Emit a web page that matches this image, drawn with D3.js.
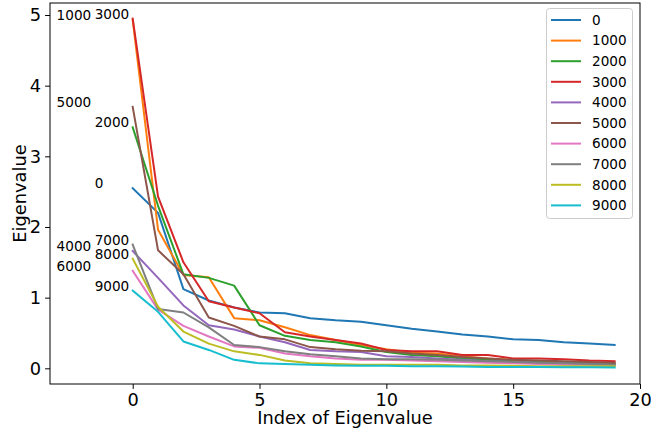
<!DOCTYPE html>
<html>
<head>
<meta charset="utf-8">
<script src="https://cdn.jsdelivr.net/npm/d3@7"></script>
<style>
  html, body { margin: 0; padding: 0; background: #fff; }
  svg { display: block; font-family: "DejaVu Sans", sans-serif; }
</style>
</head>
<body>
<svg id="chart" width="651" height="431"></svg>
<script>
// ---- data ----
const seriesNames = ["0", "1000", "2000", "3000", "4000", "5000", "6000", "7000", "8000", "9000"];
const indices = d3.range(20);
const s0    = [2.55, 2.20, 1.12, 0.96, 0.86, 0.79, 0.78, 0.71, 0.68, 0.66, 0.61, 0.56, 0.52, 0.48, 0.45, 0.41, 0.40, 0.37, 0.35, 0.33];
const s1000 = [4.93, 1.96, 1.32, 1.29, 0.71, 0.68, 0.58, 0.47, 0.40, 0.33, 0.27, 0.22, 0.21, 0.17, 0.14, 0.12, 0.10, 0.09, 0.08, 0.07];
const s2000 = [3.41, 2.30, 1.33, 1.28, 1.17, 0.61, 0.46, 0.40, 0.37, 0.31, 0.23, 0.19, 0.17, 0.14, 0.12, 0.10, 0.09, 0.08, 0.07, 0.06];
const s3000 = [4.95, 2.43, 1.50, 0.95, 0.86, 0.78, 0.51, 0.45, 0.40, 0.35, 0.26, 0.24, 0.24, 0.19, 0.19, 0.14, 0.14, 0.13, 0.11, 0.10];
const s4000 = [1.66, 1.28, 0.89, 0.61, 0.55, 0.45, 0.37, 0.26, 0.24, 0.23, 0.17, 0.16, 0.14, 0.12, 0.10, 0.09, 0.08, 0.07, 0.06, 0.05];
const s5000 = [3.70, 1.67, 1.33, 0.72, 0.60, 0.45, 0.41, 0.30, 0.27, 0.25, 0.24, 0.21, 0.19, 0.16, 0.14, 0.12, 0.11, 0.10, 0.09, 0.08];
const s6000 = [1.38, 0.83, 0.60, 0.45, 0.31, 0.29, 0.21, 0.17, 0.14, 0.12, 0.12, 0.11, 0.10, 0.09, 0.08, 0.07, 0.06, 0.05, 0.05, 0.04];
const s7000 = [1.75, 0.84, 0.79, 0.58, 0.33, 0.30, 0.24, 0.20, 0.17, 0.14, 0.13, 0.13, 0.12, 0.11, 0.10, 0.09, 0.08, 0.07, 0.06, 0.05];
const s8000 = [1.55, 0.87, 0.52, 0.35, 0.24, 0.19, 0.11, 0.07, 0.06, 0.05, 0.05, 0.05, 0.05, 0.04, 0.04, 0.035, 0.03, 0.03, 0.03, 0.03];
const s9000 = [1.10, 0.80, 0.38, 0.26, 0.12, 0.07, 0.06, 0.05, 0.04, 0.035, 0.035, 0.03, 0.03, 0.025, 0.02, 0.02, 0.02, 0.015, 0.015, 0.01];
const seriesValues = [s0, s1000, s2000, s3000, s4000, s5000, s6000, s7000, s8000, s9000];
// x position (data units) of each series' annotation label
const labelX = [-1.5, -3, -1.5, -1.5, -3, -3, -3, -1.5, -1.5, -1.5];
const xTicks = [0, 5, 10, 15, 20];
const yTicks = [0, 1, 2, 3, 4, 5];
const colors = ["#1f77b4", "#ff7f0e", "#2ca02c", "#d62728", "#9467bd", "#8c564b", "#e377c2", "#7f7f7f", "#bcbd22", "#17becf"];

// ---- layout ----
const svg = d3.select("#chart");
const mLeft = 50, mRight = 640, mTop = 3, mBottom = 384;
const x = d3.scaleLinear().domain([-3.26, 20]).range([mLeft, mRight]);
const y = d3.scaleLinear().domain([-0.222, 5.17]).range([mBottom, mTop]);

const tickFont = "17.8px";

// lines
const line = d3.line().x((d, i) => x(indices[i])).y(d => y(d));
const plot = svg.append("g");
seriesValues.forEach((vals, i) => {
  plot.append("path")
    .datum(vals)
    .attr("d", line)
    .attr("fill", "none")
    .attr("stroke", colors[i])
    .attr("stroke-width", 2)
    .attr("stroke-linejoin", "round")
    .attr("stroke-linecap", "square");
});

// annotations
seriesValues.forEach((vals, i) => {
  svg.append("text")
    .attr("x", x(labelX[i]))
    .attr("y", y(vals[0]))
    .attr("font-size", "13.6px")
    .attr("fill", "#000")
    .text(seriesNames[i]);
});

// axes
const xAxis = d3.axisBottom(x).tickValues(xTicks).tickFormat(d3.format("d")).tickSize(4.9).tickPadding(4);
const yAxis = d3.axisLeft(y).tickValues(yTicks).tickFormat(d3.format("d")).tickSize(4.9).tickPadding(4);

const gx = svg.append("g").attr("transform", `translate(0,${mBottom})`).call(xAxis);
const gy = svg.append("g").attr("transform", `translate(${mLeft},0)`).call(yAxis);
[gx, gy].forEach(g => {
  g.select(".domain").remove();
  g.selectAll(".tick line").attr("stroke", "#000").attr("stroke-width", 1);
  g.selectAll(".tick text").attr("font-size", tickFont).attr("fill", "#000")
    .attr("font-family", "DejaVu Sans, sans-serif");
});

// frame (spines)
svg.append("rect")
  .attr("x", mLeft).attr("y", mTop)
  .attr("width", mRight - mLeft).attr("height", mBottom - mTop)
  .attr("fill", "none").attr("stroke", "#000").attr("stroke-width", 1);

// axis labels
svg.append("text")
  .attr("x", (mLeft + mRight) / 2).attr("y", 424)
  .attr("text-anchor", "middle").attr("font-size", tickFont)
  .text("Index of Eigenvalue");
svg.append("text")
  .attr("transform", `translate(26,${(mTop + mBottom) / 2}) rotate(-90)`)
  .attr("text-anchor", "middle").attr("font-size", tickFont)
  .text("Eigenvalue");

// legend
const lg = svg.append("g");
lg.append("rect")
  .attr("x", 546.5).attr("y", 8.5).attr("width", 86).attr("height", 210)
  .attr("rx", 3).attr("ry", 3)
  .attr("fill", "#fff").attr("fill-opacity", 0.8)
  .attr("stroke", "#cccccc").attr("stroke-width", 1);
seriesNames.forEach((name, i) => {
  const cy = 20 + i * 20.6;
  lg.append("line")
    .attr("x1", 551).attr("x2", 581).attr("y1", cy).attr("y2", cy)
    .attr("stroke", colors[i]).attr("stroke-width", 2);
  lg.append("text")
    .attr("x", 592).attr("y", cy).attr("dy", "0.36em")
    .attr("font-size", "13.6px").text(name);
});
</script>
</body>
</html>
